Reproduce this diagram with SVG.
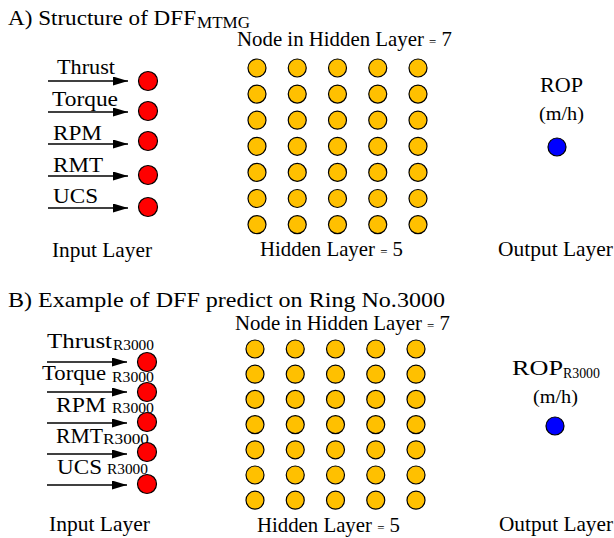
<svg xmlns="http://www.w3.org/2000/svg" width="614" height="538" viewBox="0 0 614 538">
  <defs>
    <marker id="head" markerWidth="10" markerHeight="6" refX="10" refY="3" orient="auto" markerUnits="strokeWidth">
      <path d="M0,0 L10,3 L0,6 Z" fill="#000"/>
    </marker>
    <!-- neuron styles -->
    <circle id="nIn" r="9.5" fill="#FF0000" stroke="#000" stroke-width="1.2"/>
    <circle id="nHid" r="9" fill="#FFC000" stroke="#000" stroke-width="1.2"/>
    <circle id="nOut" r="9" fill="#0000FF" stroke="#000" stroke-width="1.2"/>
    <!-- one row of five hidden-layer neurons -->
    <g id="hrow">
      <use href="#nHid" x="0" y="0"/><use href="#nHid" x="40.25" y="0"/><use href="#nHid" x="80.5" y="0"/><use href="#nHid" x="120.75" y="0"/><use href="#nHid" x="161" y="0"/>
    </g>
  </defs>

  <!-- Panel A -->
  <g id="panelA">
    <text x="8" y="25" font-family="Liberation Serif" font-size="22" textLength="188" lengthAdjust="spacingAndGlyphs">A) Structure of DFF</text>
    <text x="197" y="28" font-family="Liberation Serif" font-size="16" textLength="53" lengthAdjust="spacingAndGlyphs">MTMG</text>
    <text x="237" y="46" font-family="Liberation Serif" font-size="21" textLength="215" lengthAdjust="spacingAndGlyphs">Node in Hidden Layer <tspan font-size="13">=</tspan> 7</text>

    <g id="inputA">
      <text x="57" y="74" font-family="Liberation Serif" font-size="22" textLength="58" lengthAdjust="spacingAndGlyphs">Thrust</text>
      <text x="52" y="106" font-family="Liberation Serif" font-size="22" textLength="66" lengthAdjust="spacingAndGlyphs">Torque</text>
      <text x="53" y="140" font-family="Liberation Serif" font-size="22" textLength="49" lengthAdjust="spacingAndGlyphs">RPM</text>
      <text x="53" y="172" font-family="Liberation Serif" font-size="22" textLength="50" lengthAdjust="spacingAndGlyphs">RMT</text>
      <text x="53" y="203" font-family="Liberation Serif" font-size="22" textLength="45" lengthAdjust="spacingAndGlyphs">UCS</text>
      <use id="inA1" href="#nIn" x="148" y="81"/>
      <use id="inA2" href="#nIn" x="148" y="111"/>
      <use id="inA3" href="#nIn" x="148" y="141"/>
      <use id="inA4" href="#nIn" x="148" y="175"/>
      <use id="inA5" href="#nIn" x="148" y="207"/>
    </g>

    <g id="hiddenA" transform="translate(257,68)">
      <use href="#hrow" y="0"/>
      <use href="#hrow" y="26.1"/>
      <use href="#hrow" y="52.2"/>
      <use href="#hrow" y="78.3"/>
      <use href="#hrow" y="104.4"/>
      <use href="#hrow" y="130.5"/>
      <use href="#hrow" y="156.6"/>
    </g>

    <g id="outputA">
      <text x="540" y="92" font-family="Liberation Serif" font-size="22" textLength="43" lengthAdjust="spacingAndGlyphs">ROP</text>
      <text x="539" y="120" font-family="Liberation Serif" font-size="18" textLength="45" lengthAdjust="spacingAndGlyphs">(m/h)</text>
      <use href="#nOut" x="557" y="147"/>
    </g>

    <text x="52" y="257" font-family="Liberation Serif" font-size="21" textLength="100" lengthAdjust="spacingAndGlyphs">Input Layer</text>
    <text x="260" y="256" font-family="Liberation Serif" font-size="21" textLength="143" lengthAdjust="spacingAndGlyphs">Hidden Layer <tspan font-size="13">=</tspan> 5</text>
    <text x="498" y="256" font-family="Liberation Serif" font-size="21" textLength="115" lengthAdjust="spacingAndGlyphs">Output Layer</text>
  </g>

  <!-- Panel B -->
  <g id="panelB">
    <text x="8" y="307" font-family="Liberation Serif" font-size="22" textLength="437" lengthAdjust="spacingAndGlyphs">B) Example of DFF predict on Ring No.3000</text>
    <text x="235" y="330" font-family="Liberation Serif" font-size="21" textLength="215" lengthAdjust="spacingAndGlyphs">Node in Hidden Layer <tspan font-size="13">=</tspan> 7</text>

    <g id="inputB">
      <text x="47" y="348" font-family="Liberation Serif" font-size="22" textLength="65" lengthAdjust="spacingAndGlyphs">Thrust</text>
      <text x="113" y="350" font-family="Liberation Serif" font-size="14" textLength="41" lengthAdjust="spacingAndGlyphs">R3000</text>
      <text x="42" y="380" font-family="Liberation Serif" font-size="22" textLength="64" lengthAdjust="spacingAndGlyphs">Torque</text>
      <text x="112" y="382" font-family="Liberation Serif" font-size="14" textLength="42" lengthAdjust="spacingAndGlyphs">R3000</text>
      <text x="56" y="412" font-family="Liberation Serif" font-size="22" textLength="50" lengthAdjust="spacingAndGlyphs">RPM</text>
      <text x="112" y="413" font-family="Liberation Serif" font-size="14" textLength="42" lengthAdjust="spacingAndGlyphs">R3000</text>
      <text x="56" y="443" font-family="Liberation Serif" font-size="22" textLength="47" lengthAdjust="spacingAndGlyphs">RMT</text>
      <text x="103" y="444" font-family="Liberation Serif" font-size="14" textLength="46" lengthAdjust="spacingAndGlyphs">R3000</text>
      <text x="57" y="474" font-family="Liberation Serif" font-size="22" textLength="45" lengthAdjust="spacingAndGlyphs">UCS</text>
      <text x="107" y="474" font-family="Liberation Serif" font-size="14" textLength="41" lengthAdjust="spacingAndGlyphs">R3000</text>
      <use id="inB1" href="#nIn" x="147" y="362"/>
      <use id="inB2" href="#nIn" x="147" y="392"/>
      <use id="inB3" href="#nIn" x="147" y="422"/>
      <use id="inB4" href="#nIn" x="147" y="452"/>
      <use id="inB5" href="#nIn" x="147" y="484"/>
    </g>

    <g id="hiddenB" transform="translate(255,349)">
      <use href="#hrow" y="0"/>
      <use href="#hrow" y="25.2"/>
      <use href="#hrow" y="50.4"/>
      <use href="#hrow" y="75.6"/>
      <use href="#hrow" y="100.8"/>
      <use href="#hrow" y="126"/>
      <use href="#hrow" y="151.2"/>
    </g>

    <g id="outputB">
      <text x="512" y="375" font-family="Liberation Serif" font-size="22" textLength="51" lengthAdjust="spacingAndGlyphs">ROP</text>
      <text x="563" y="378" font-family="Liberation Serif" font-size="14" textLength="37" lengthAdjust="spacingAndGlyphs">R3000</text>
      <text x="533" y="403" font-family="Liberation Serif" font-size="18" textLength="45" lengthAdjust="spacingAndGlyphs">(m/h)</text>
      <use href="#nOut" x="555" y="426"/>
    </g>

    <text x="49" y="531" font-family="Liberation Serif" font-size="21" textLength="101" lengthAdjust="spacingAndGlyphs">Input Layer</text>
    <text x="257" y="532" font-family="Liberation Serif" font-size="21" textLength="143" lengthAdjust="spacingAndGlyphs">Hidden Layer <tspan font-size="13">=</tspan> 5</text>
    <text x="499" y="531" font-family="Liberation Serif" font-size="21" textLength="114" lengthAdjust="spacingAndGlyphs">Output Layer</text>
  </g>

  <!-- Input arrows -->
  <g id="connectors" stroke="#000" stroke-width="1.5" fill="none" marker-end="url(#head)">
    <line x1="48" y1="81" x2="128" y2="81"/>
    <line x1="48" y1="112" x2="128" y2="112"/>
    <line x1="48" y1="144" x2="128" y2="144"/>
    <line x1="48" y1="176" x2="128" y2="176"/>
    <line x1="48" y1="208" x2="128" y2="208"/>
    <line x1="47" y1="362" x2="127" y2="362"/>
    <line x1="47" y1="392" x2="127" y2="392"/>
    <line x1="47" y1="423" x2="127" y2="423"/>
    <line x1="47" y1="454" x2="127" y2="454"/>
    <line x1="47" y1="485" x2="127" y2="485"/>
  </g>
</svg>
